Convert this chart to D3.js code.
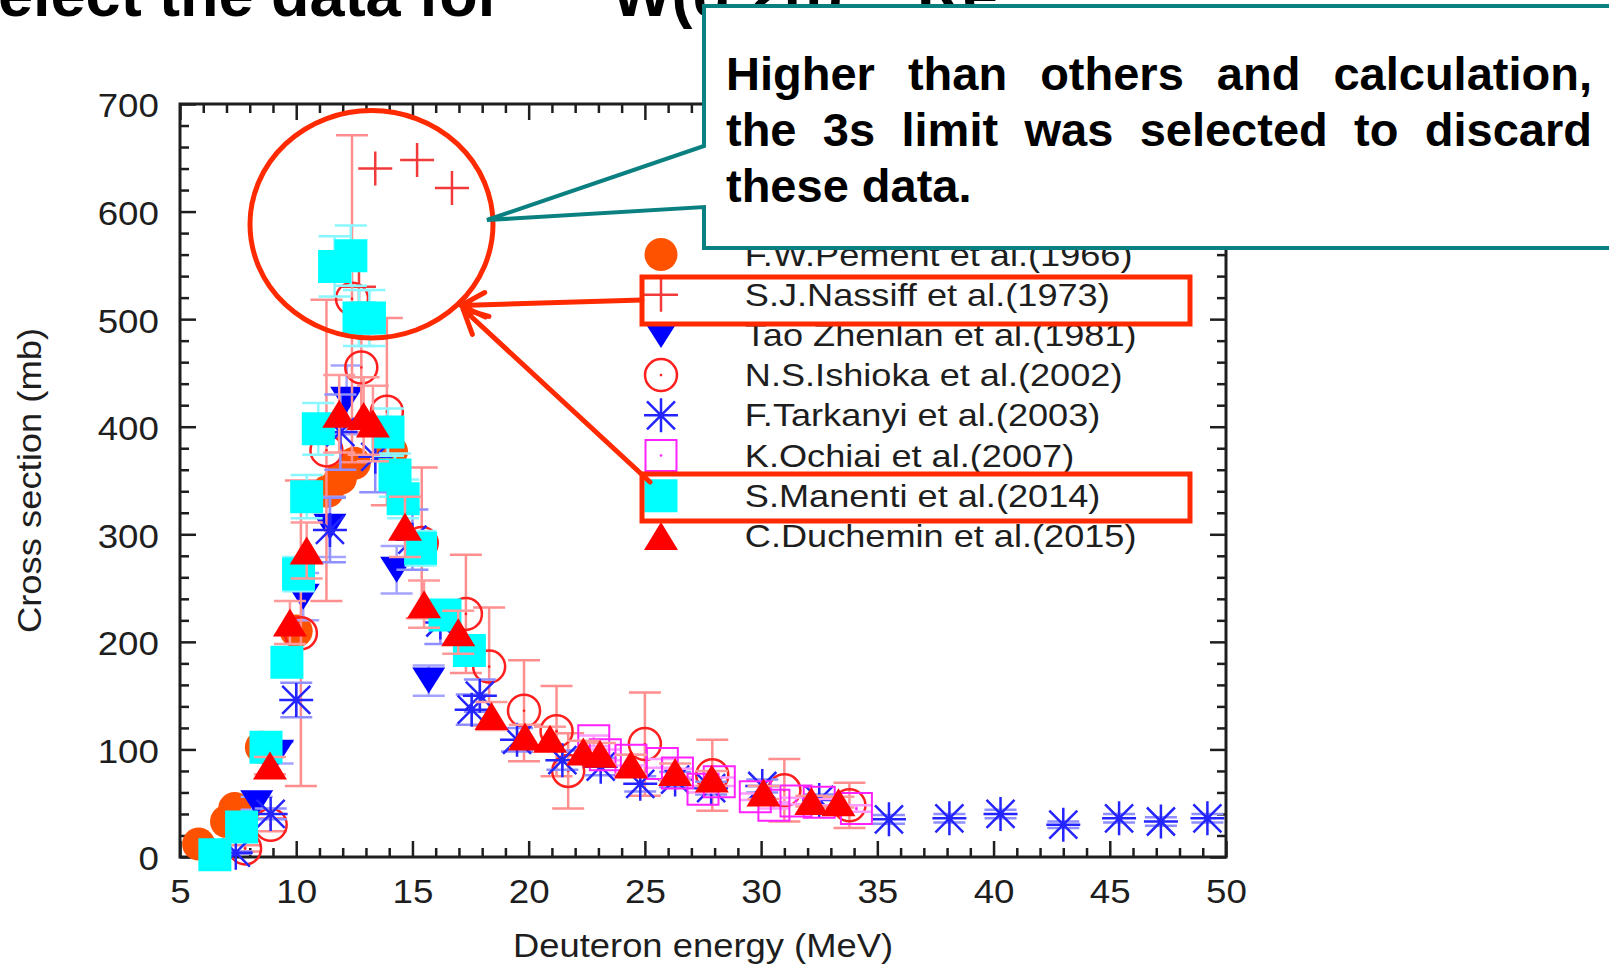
<!DOCTYPE html>
<html>
<head>
<meta charset="utf-8">
<script src="https://cdn.jsdelivr.net/npm/d3@7"></script>
<style>
html,body{margin:0;padding:0;background:#fff;overflow:hidden;}
svg{display:block;}
</style>
</head>
<body>
<svg id="chart" width="1609" height="968"></svg>
<script>
// ---------------- DATA ----------------
const seriesLabels = [
  "F.W.Pement et al.(1966)",
  "S.J.Nassiff et al.(1973)",
  "Tao Zhenlan et al.(1981)",
  "N.S.Ishioka et al.(2002)",
  "F.Tarkanyi et al.(2003)",
  "K.Ochiai et al.(2007)",
  "S.Manenti et al.(2014)",
  "C.Duchemin et al.(2015)"
];

// F.W.Pement (1966)
const pementE  = [5.8, 7.0, 7.35, 8.5, 10.0, 11.35, 11.9, 12.5, 14.1];
const pementXS = [12, 33, 45, 102, 210, 340, 352, 366, 377];

// S.J.Nassiff (1973)
const nassiffE  = [12.7, 13.4, 15.2, 16.7];
const nassiffXS = [530, 640, 648, 622];

// Tao Zhenlan (1981)
const taoE   = [8.3, 9.2, 10.3, 11.45, 12.17, 14.32, 15.7];
const taoXS  = [50, 97, 242, 307, 425, 267, 164];
const taoErr = [6, 10, 22, 28, 32, 22, 14];

// N.S.Ishioka (2002)
const ishiokaE   = [7.8, 8.9, 10.2, 11.3, 12.4, 12.8, 13.9, 15.4, 17.3, 18.3, 19.8, 21.2, 21.7, 25.0, 27.9, 31.0, 33.8];
const ishiokaXS  = [8, 30, 208, 378, 519, 455, 414, 292, 226, 177, 136, 117, 80, 105, 76, 62, 48];
const ishiokaErr = [3, 6, 142, 140, 152, 60, 87, 70, 55, 55, 47, 42, 35, 48, 33, 29, 21];

// F.Tarkanyi (2003)
const tarkanyiE   = [7.4, 8.9, 10.0, 11.45, 11.9, 13.4, 15.0, 16.2, 17.55, 17.9, 19.5, 21.45, 23.1, 24.8, 26.3, 27.85, 30.05, 32.5, 35.5, 38.1, 40.3, 43.0, 45.4, 47.2, 49.2];
const tarkanyiXS  = [4, 40, 146, 304, 395, 372, 295, 218, 137, 150, 109, 90, 84, 68, 72, 64, 66, 53, 35, 36, 40, 30, 36, 33, 36];
const tarkanyiErr = [1, 5, 16, 30, 35, 33, 28, 20, 14, 15, 11, 9, 8, 7, 7, 6, 6, 5, 4, 4, 4, 3, 4, 4, 4];

// K.Ochiai (2007)
const ochiaiE   = [22.8, 23.3, 24.4, 25.75, 26.4, 27.5, 28.2, 29.75, 30.55, 31.5, 32.5, 34.1];
const ochiaiXS  = [108, 95, 90, 87, 78, 63, 70, 56, 48, 52, 51, 45];
const ochiaiErr = [5, 5, 5, 4, 4, 3, 4, 3, 3, 3, 3, 3];

// S.Manenti (2014)
const manentiE   = [6.5, 7.65, 8.7, 9.6, 10.1, 10.45, 10.95, 11.65, 12.35, 12.7, 13.15, 13.95, 14.25, 14.6, 15.35, 16.4, 17.45];
const manentiXS  = [2, 28, 102, 181, 263, 335, 398, 549, 559, 501, 501, 395, 355, 333, 287, 225, 192];
const manentiErr = [1, 3, 8, 12, 16, 20, 24, 28, 28, 26, 26, 22, 20, 18, 16, 13, 12];

// C.Duchemin (2015)
const ducheminE   = [8.87, 9.73, 10.45, 11.85, 12.9, 13.3, 14.68, 15.5, 16.97, 18.4, 19.84, 20.92, 22.35, 23.07, 24.4, 26.3, 27.88, 30.1, 32.16, 33.33];
const ducheminXS  = [85, 218, 285, 412, 410, 403, 307, 235, 209, 131, 112, 110, 98, 96, 86, 79, 73, 60, 52, 51];
const ducheminErr = [8, 20, 26, 36, 36, 35, 28, 22, 20, 13, 11, 11, 10, 10, 9, 8, 7, 6, 5, 5];

const xTickValues = [5, 10, 15, 20, 25, 30, 35, 40, 45, 50];
const xTickLabels = ["5", "10", "15", "20", "25", "30", "35", "40", "45", "50"];
const yTickValues = [0, 100, 200, 300, 400, 500, 600, 700];
const yTickLabels = ["0", "100", "200", "300", "400", "500", "600", "700"];
const xAxisTitle = "Deuteron energy (MeV)";
const yAxisTitle = "Cross section (mb)";
const calloutLines = ["Higher than others and calculation,", "the 3s  limit was selected to discard", "these data."];

// ---------------- SETUP ----------------
const svg = d3.select("#chart");
const FONT = "'Liberation Sans', Arial, Helvetica, sans-serif";
const INK = "#1e1e1e";
const HL = "#ff2a00";
const TEAL = "#0a8080";

const x = d3.scaleLinear().domain([5, 50]).range([180, 1226]);
const y = d3.scaleLinear().domain([0, 700]).range([857, 104]);

const xMinor = x.ticks(45).filter(v => xTickValues.indexOf(v) < 0);
const yMinor = y.ticks(35).filter(v => yTickValues.indexOf(v) < 0);

// ---------------- AXES ----------------
function styleAxis(g) {
  g.select(".domain").remove();
  g.attr("color", INK).attr("font-family", FONT).attr("font-size", 34);
  g.selectAll("line").attr("stroke-width", 2.5);
  g.selectAll("text").attr("fill", INK);
}
const axes = svg.append("g");
// bottom
axes.append("g").attr("transform", "translate(0,857)")
  .call(d3.axisBottom(x).tickValues(xTickValues).tickSize(-16).tickPadding(22)
        .tickFormat((d, i) => xTickLabels[i]))
  .call(styleAxis)
  .call(g => g.selectAll("text").attr("transform", "scale(1.08,1)"));
axes.append("g").attr("transform", "translate(0,857)")
  .call(d3.axisBottom(x).tickValues(xMinor).tickSize(-9).tickFormat(""))
  .call(styleAxis);
// top
axes.append("g").attr("transform", "translate(0,104)")
  .call(d3.axisTop(x).tickValues(xTickValues).tickSize(-16).tickFormat(""))
  .call(styleAxis);
axes.append("g").attr("transform", "translate(0,104)")
  .call(d3.axisTop(x).tickValues(xMinor).tickSize(-9).tickFormat(""))
  .call(styleAxis);
// left
axes.append("g").attr("transform", "translate(180,0)")
  .call(d3.axisLeft(y).tickValues(yTickValues).tickSize(-16).tickPadding(19.5)
        .tickFormat((d, i) => yTickLabels[i]))
  .call(styleAxis)
  .call(g => g.selectAll("text").attr("transform", "scale(1.08,1)").attr("dy", "0.38em"));
axes.append("g").attr("transform", "translate(180,0)")
  .call(d3.axisLeft(y).tickValues(yMinor).tickSize(-9).tickFormat(""))
  .call(styleAxis);
// right
axes.append("g").attr("transform", "translate(1226,0)")
  .call(d3.axisRight(y).tickValues(yTickValues).tickSize(-16).tickFormat(""))
  .call(styleAxis);
axes.append("g").attr("transform", "translate(1226,0)")
  .call(d3.axisRight(y).tickValues(yMinor).tickSize(-9).tickFormat(""))
  .call(styleAxis);

// frame
svg.append("rect").attr("x", 180).attr("y", 104).attr("width", 1046).attr("height", 753)
  .attr("fill", "none").attr("stroke", INK).attr("stroke-width", 3);

// axis titles
svg.append("text").text(xAxisTitle)
  .attr("transform", "translate(703,957) scale(1.07,1)")
  .attr("text-anchor", "middle").attr("font-family", FONT).attr("font-size", 34).attr("fill", INK);
svg.append("text").text(yAxisTitle)
  .attr("transform", "translate(41,480.5) rotate(-90) scale(1.07,1)")
  .attr("text-anchor", "middle").attr("font-family", FONT).attr("font-size", 34).attr("fill", INK);

// ---------------- MARKERS ----------------
function shapePath(shape, k) {
  k = k || 1;
  switch (shape) {
    case "circle": { const r = 16.5 * k; return `M${r},0A${r},${r} 0 1,1 ${-r},0A${r},${r} 0 1,1 ${r},0Z`; }
    case "circleOpen": { const r = 16 * k; return `M${r},0A${r},${r} 0 1,1 ${-r},0A${r},${r} 0 1,1 ${r},0Z`; }
    case "plus": { const s = 17 * k; return `M${-s},0H${s}M0,${-s}V${s}`; }
    case "triDown": { const w = 33 * k, h = 26 * k; return `M${-w/2},${-h/2}H${w/2}L0,${h/2}Z`; }
    case "triUp": { const w = 34 * k, h = 28 * k; return `M${-w/2},${h/2}H${w/2}L0,${-h/2}Z`; }
    case "star": { const s = 17 * k, d = 14 * k; return `M${-s},0H${s}M0,${-s}V${s}M${-d},${-d}L${d},${d}M${-d},${d}L${d},${-d}`; }
    case "squareOpen": { const s = 15.5 * k; return `M${-s},${-s}H${s}V${s}H${-s}Z`; }
    case "squareFill": { const s = 16.5 * k; return `M${-s},${-s}H${s}V${s}H${-s}Z`; }
  }
}
function styleMarker(sel, s) {
  if (s.filled) sel.attr("fill", s.color).attr("stroke", "none");
  else sel.attr("fill", "none").attr("stroke", s.color).attr("stroke-width", s.sw);
}

const series = [
  { label: seriesLabels[0], E: pementE,   V: pementXS,   err: null,        shape: "circle",     filled: true,  color: "#ff5200" },
  { label: seriesLabels[1], E: nassiffE,  V: nassiffXS,  err: null,        shape: "plus",       filled: false, color: "#f23a3a", sw: 2.5 },
  { label: seriesLabels[2], E: taoE,      V: taoXS,      err: taoErr,      shape: "triDown",    filled: true,  color: "#0000ff", errColor: "#a4a4ff" },
  { label: seriesLabels[3], E: ishiokaE,  V: ishiokaXS,  err: ishiokaErr,  shape: "circleOpen", filled: false, color: "#ff1f1f", sw: 2.5, errColor: "#ff8f8f", dot: true },
  { label: seriesLabels[4], E: tarkanyiE, V: tarkanyiXS, err: tarkanyiErr, shape: "star",       filled: false, color: "#2424ff", sw: 2.5, errColor: "#8f8fff" },
  { label: seriesLabels[5], E: ochiaiE,   V: ochiaiXS,   err: ochiaiErr,   shape: "squareOpen", filled: false, color: "#ff22ff", sw: 2, errColor: "#ff9cff", dot: true },
  { label: seriesLabels[6], E: manentiE,  V: manentiXS,  err: manentiErr,  shape: "squareFill", filled: true,  color: "#00ffff", errColor: "#8af6ff" },
  { label: seriesLabels[7], E: ducheminE, V: ducheminXS, err: ducheminErr, shape: "triUp",      filled: true,  color: "#ff0000", errColor: "#ff9a9a" }
];

const plot = svg.append("g");
const CAP = 16;
series.forEach(s => {
  const g = plot.append("g");
  const pts = s.E.map((e, i) => ({ e: e, v: s.V[i], d: s.err ? s.err[i] : 0 }));
  if (s.err) {
    g.selectAll("path.eb").data(pts.filter(p => p.d > 0)).join("path")
      .attr("class", "eb")
      .attr("d", p => {
        const xx = x(p.e), y1 = y(p.v - p.d), y2 = y(p.v + p.d);
        return `M${xx},${y1}V${y2}M${xx - CAP},${y1}H${xx + CAP}M${xx - CAP},${y2}H${xx + CAP}`;
      })
      .attr("fill", "none").attr("stroke", s.errColor).attr("stroke-width", 2.5);
  }
  g.selectAll("path.pt").data(pts).join("path")
    .attr("class", "pt")
    .attr("transform", p => `translate(${x(p.e)},${y(p.v)})`)
    .attr("d", shapePath(s.shape))
    .call(sel => styleMarker(sel, s));
  if (s.dot) {
    g.selectAll("circle.dot").data(pts).join("circle")
      .attr("class", "dot").attr("cx", p => x(p.e)).attr("cy", p => y(p.v)).attr("r", 1.3)
      .attr("fill", s.color);
  }
});

// ---------------- LEGEND ----------------
const legend = svg.append("g");
series.forEach((s, i) => {
  const base = 265.5 + i * 40.2;
  const cy = base - 11;
  const m = legend.append("path").attr("transform", `translate(661,${cy})`).attr("d", shapePath(s.shape, 1.0));
  styleMarker(m, s);
  if (s.dot) legend.append("circle").attr("cx", 661).attr("cy", cy).attr("r", 1.3).attr("fill", s.color);
  legend.append("text").text(s.label)
    .attr("transform", `translate(744.8,${base}) scale(1.13,1)`)
    .attr("font-family", FONT).attr("font-size", 32).attr("fill", INK);
});

// ---------------- ANNOTATIONS ----------------
const ann = svg.append("g");
// highlight boxes around two legend entries
ann.append("rect").attr("x", 642).attr("y", 277).attr("width", 548).attr("height", 47)
  .attr("fill", "none").attr("stroke", HL).attr("stroke-width", 5);
ann.append("rect").attr("x", 642).attr("y", 474).attr("width", 548).attr("height", 47)
  .attr("fill", "none").attr("stroke", HL).attr("stroke-width", 5);
// ellipse around discarded data
ann.append("ellipse").attr("cx", 371.5).attr("cy", 224.3).attr("rx", 121.5).attr("ry", 113.7)
  .attr("fill", "none").attr("stroke", HL).attr("stroke-width", 5);
// arrows
function arrow(x1, y1, x2, y2) {
  const a = Math.atan2(y1 - y2, x1 - x2), L = 27, h = 0.47;
  const p = `M${x1},${y1}L${x2},${y2}` +
    `M${x2 + L * Math.cos(a + h)},${y2 + L * Math.sin(a + h)}L${x2},${y2}` +
    `L${x2 + L * Math.cos(a - h)},${y2 + L * Math.sin(a - h)}`;
  ann.append("path").attr("d", p).attr("fill", "none").attr("stroke", HL)
    .attr("stroke-width", 5).attr("stroke-linecap", "round").attr("stroke-linejoin", "round");
}
arrow(642, 300, 461, 305.5);
arrow(650, 482, 463, 309);

// ---------------- TITLE (partly hidden) ----------------
const title = svg.append("g").attr("font-family", FONT).attr("font-weight", "bold").attr("fill", "#000");
title.append("text").attr("x", -44).attr("y", 16).attr("font-size", 63).text("Select the data for");
title.append("text").attr("x", 540).attr("y", -8).attr("font-size", 40).text("186");
title.append("text").attr("x", 612).attr("y", 16).attr("font-size", 63).text("W(d,2n)");
title.append("text").attr("x", 850).attr("y", -8).attr("font-size", 40).text("186");
title.append("text").attr("x", 917).attr("y", 16).attr("font-size", 63).text("Re");

// ---------------- CALLOUT ----------------
const callout = svg.append("g");
callout.append("path")
  .attr("d", "M704,6H1665V248H704V207L487,220L704,146Z")
  .attr("fill", "#fff").attr("stroke", TEAL).attr("stroke-width", 4).attr("stroke-linejoin", "miter");

const cFont = 47, cLeft = 726, cRight = 1592, cBase = [89.5, 145.5, 201.5];
const measurer = svg.append("text").attr("font-family", FONT).attr("font-weight", "bold").attr("font-size", cFont).attr("visibility", "hidden");
function wordWidth(w) { measurer.text(w); return measurer.node().getComputedTextLength(); }
const spaceW = wordWidth("a a") - wordWidth("aa");
calloutLines.forEach((line, li) => {
  const words = line.split(/\s+/);
  const widths = words.map(wordWidth);
  const total = d3.sum(widths);
  const justify = li < calloutLines.length - 1;
  const gap = justify ? (cRight - cLeft - total) / (words.length - 1) : spaceW;
  let cx = cLeft;
  words.forEach((w, i) => {
    callout.append("text").attr("x", cx).attr("y", cBase[li])
      .attr("font-family", FONT).attr("font-weight", "bold").attr("font-size", cFont)
      .attr("fill", "#000").text(w);
    cx += widths[i] + gap;
  });
});
measurer.remove();
</script>
</body>
</html>
